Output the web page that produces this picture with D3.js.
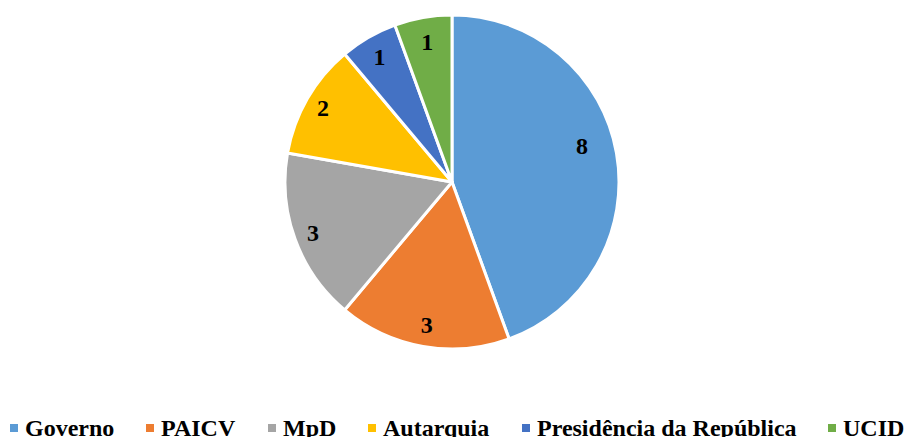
<!DOCTYPE html>
<html><head><meta charset="utf-8">
<script src="https://cdn.jsdelivr.net/npm/d3@7"></script>
<style>body{margin:0;background:#fff}svg{display:block}
text{font-family:"Liberation Serif","Times New Roman","DejaVu Serif",serif;font-weight:bold}</style>
</head><body>
<svg id="c" width="908" height="437"></svg>
<script>
const categories = ["Governo","PAICV","MpD","Autarquia","Presidência da República","UCID"];
const values = [8,3,3,2,1,1];
const colors = ["#5B9BD5","#ED7D31","#A5A5A5","#FFC000","#4472C4","#70AD47"];

const svg = d3.select("#c");
const cx = 452, cy = 182, R = 167;
const pie = d3.pie().sort(null).value(d=>d)(values);
const arc = d3.arc().innerRadius(0).outerRadius(R);
const g = svg.append("g").attr("transform",`translate(${cx},${cy})`);
g.selectAll("path").data(pie).join("path")
  .attr("d",arc).attr("fill",(d,i)=>colors[i])
  .attr("stroke","#fff").attr("stroke-width",3).attr("stroke-linejoin","round");
const labelR = [135,145,148,149,145,143];
g.selectAll("text").data(pie).join("text")
  .attr("transform",(d,i)=>{
    const a=(d.startAngle+d.endAngle)/2 - (i===0?0.1:0);
    return `translate(${labelR[i]*Math.sin(a)},${-labelR[i]*Math.cos(a)})`;})
  .attr("text-anchor","middle").attr("dy","0.35em")
  .attr("font-size",24).attr("fill","#000")
  .text(d=>d.data);

const legX = [10,146,268,368,522,828];
const lg = svg.append("g");
categories.forEach((c,i)=>{
  lg.append("rect").attr("x",legX[i]).attr("y",424).attr("width",8).attr("height",8).attr("fill",colors[i]);
  lg.append("text").attr("x",legX[i]+15).attr("y",436)
    .attr("font-size",24).attr("fill","#000").text(c);
});
</script>
</body></html>
